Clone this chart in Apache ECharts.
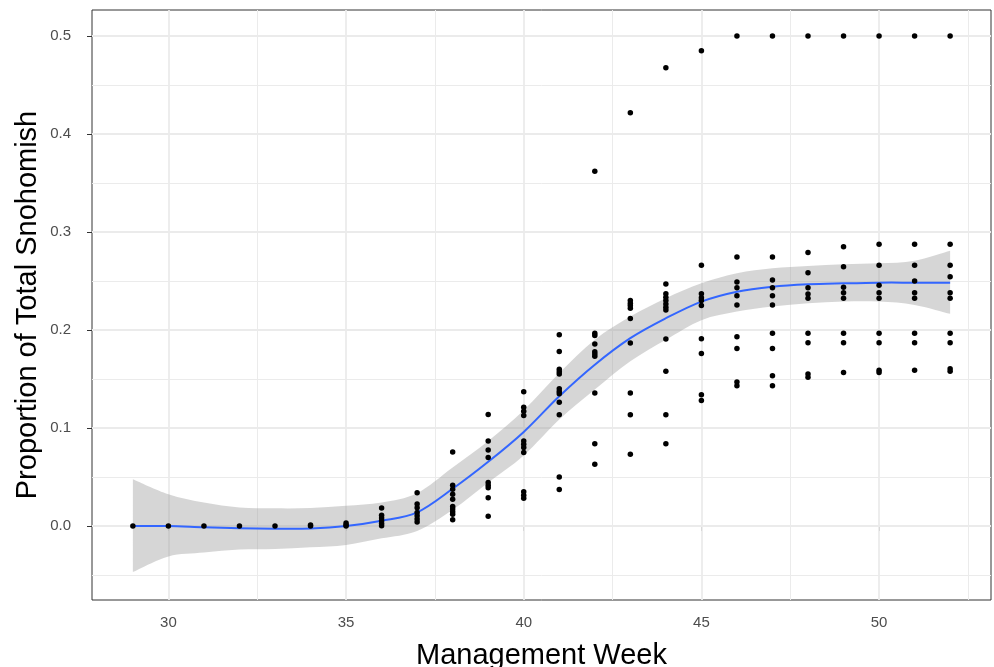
<!DOCTYPE html>
<html>
<head>
<meta charset="utf-8">
<script src="https://cdn.jsdelivr.net/npm/echarts@6/dist/echarts.min.js"></script>
<style>
html,body{margin:0;padding:0;background:#fff;}
#chart{width:994px;height:667px;}
</style>
</head>
<body>
<div id="chart"></div>
<script>
// Observed points: management week and proportions at that week
const weeks = [29,30,31,32,33,34,35,36,37,38,39,40,41,42,43,44,45,46,47,48,49,50,51,52];
const proportions = [
  [0],
  [0],
  [0],
  [0],
  [0],
  [0.001, 0],
  [0.003, 0.001, 0],
  [0.0183, 0.011, 0.0082, 0.0053, 0.0025, 0.0003],
  [0.034, 0.0225, 0.0186, 0.0139, 0.0105, 0.0071, 0.004],
  [0.0755, 0.0417, 0.0376, 0.0325, 0.0274, 0.02, 0.0173, 0.0145, 0.0119, 0.0064],
  [0.1138, 0.0867, 0.0775, 0.0698, 0.0444, 0.0417, 0.039, 0.0288, 0.0099],
  [0.1369, 0.1212, 0.1172, 0.1128, 0.0867, 0.0833, 0.08, 0.0749, 0.0349, 0.0315, 0.0282],
  [0.1951, 0.178, 0.16, 0.1575, 0.155, 0.14, 0.1372, 0.135, 0.1263, 0.1135, 0.0501, 0.0373],
  [0.362, 0.1968, 0.1944, 0.1857, 0.1778, 0.1755, 0.1731, 0.1358, 0.084, 0.063],
  [0.4217, 0.23, 0.2273, 0.2249, 0.2222, 0.2117, 0.1866, 0.1358, 0.1135, 0.0732],
  [0.4675, 0.247, 0.237, 0.2334, 0.23, 0.2266, 0.2233, 0.2205, 0.1907, 0.158, 0.1135, 0.084],
  [0.485, 0.266, 0.237, 0.233, 0.23, 0.225, 0.191, 0.176, 0.134, 0.128],
  [0.5, 0.2745, 0.249, 0.243, 0.235, 0.2255, 0.193, 0.181, 0.147, 0.143],
  [0.5, 0.2745, 0.251, 0.243, 0.235, 0.2255, 0.1966, 0.181, 0.1534, 0.143],
  [0.5, 0.279, 0.2585, 0.243, 0.2367, 0.2323, 0.1966, 0.187, 0.1551, 0.1517],
  [0.5, 0.285, 0.2646, 0.2435, 0.238, 0.2323, 0.1966, 0.187, 0.1565],
  [0.5, 0.2874, 0.266, 0.2456, 0.238, 0.2323, 0.1966, 0.187, 0.159, 0.1565],
  [0.5, 0.2874, 0.266, 0.25, 0.238, 0.2323, 0.1966, 0.187, 0.159],
  [0.5, 0.2874, 0.266, 0.2544, 0.238, 0.2323, 0.1966, 0.187, 0.1604, 0.158]
];

// Smoothed fit (loess) and its confidence band, read at each week
const smoothWeeks = [29,30,31,32,33,34,35,36,37,38,39,40,41,42,43,44,45,46,47,48,49,50,51,52];
const smoothFit   = [0, 0, -0.0013, -0.0023, -0.0027, -0.0025, 0, 0.0054, 0.0139, 0.038, 0.0655, 0.096, 0.1324, 0.1646, 0.1917, 0.212, 0.229, 0.2391, 0.2442, 0.2466, 0.2476, 0.2483, 0.2483, 0.2483];
const smoothLower = [-0.047, -0.031, -0.027, -0.024, -0.0234, -0.0217, -0.0193, -0.0126, -0.005, 0.0165, 0.0444, 0.072, 0.1087, 0.1392, 0.168, 0.19, 0.21, 0.2188, 0.2239, 0.2273, 0.229, 0.229, 0.2256, 0.2165];
const smoothUpper = [0.0478, 0.0325, 0.024, 0.019, 0.018, 0.0183, 0.0206, 0.0240, 0.0335, 0.0596, 0.0867, 0.118, 0.156, 0.19, 0.2137, 0.2324, 0.2476, 0.2578, 0.2629, 0.2652, 0.267, 0.268, 0.2707, 0.2809];

// Axis ticks and gridlines
const xTicks = [30, 35, 40, 45, 50];
const xMinor = [32.5, 37.5, 42.5, 47.5, 52.5];
const yTicks = [0, 0.1, 0.2, 0.3, 0.4, 0.5];
const yMinor = [-0.05, 0.05, 0.15, 0.25, 0.35, 0.45];

const xTitle = 'Management Week';
const yTitle = 'Proportion of Total Snohomish';

const scatterData = [];
weeks.forEach((w, i) => proportions[i].forEach(v => scatterData.push([w, v])));

const bandData = smoothWeeks.map((w, i) => [w, smoothLower[i], smoothUpper[i]]);
const fitData = smoothWeeks.map((w, i) => [w, smoothFit[i]]);

const gridColor = '#EBEBEB';
const gridLines = []
  .concat(xMinor.map(v => ({xAxis: v, lineStyle: {width: 1, color: gridColor, type: 'solid'}})))
  .concat(yMinor.map(v => ({yAxis: v, lineStyle: {width: 1, color: gridColor, type: 'solid'}})))
  .concat(xTicks.map(v => ({xAxis: v, lineStyle: {width: 1.8, color: gridColor, type: 'solid'}})))
  .concat(yTicks.map(v => ({yAxis: v, lineStyle: {width: 1.8, color: gridColor, type: 'solid'}})));

const font = "'Liberation Sans', Arial, sans-serif";

// Catmull-Rom spline through pixel points -> SVG path commands
function splineCmds(pts, moveFirst) {
  let d = (moveFirst ? 'M' : 'L') + pts[0][0] + ',' + pts[0][1];
  for (let i = 0; i < pts.length - 1; i++) {
    const p0 = pts[Math.max(0, i - 1)], p1 = pts[i], p2 = pts[i + 1], p3 = pts[Math.min(pts.length - 1, i + 2)];
    const c1 = [p1[0] + (p2[0] - p0[0]) / 6, p1[1] + (p2[1] - p0[1]) / 6];
    const c2 = [p2[0] - (p3[0] - p1[0]) / 6, p2[1] - (p3[1] - p1[1]) / 6];
    d += 'C' + c1[0] + ',' + c1[1] + ' ' + c2[0] + ',' + c2[1] + ' ' + p2[0] + ',' + p2[1];
  }
  return d;
}

function renderBand(params, api) {
  if (params.dataIndex !== 0) return null;
  const upper = [], lower = [];
  for (let i = 0; i < bandData.length; i++) {
    upper.push(api.coord([bandData[i][0], bandData[i][2]]));
    lower.push(api.coord([bandData[i][0], bandData[i][1]]));
  }
  lower.reverse();
  const d = splineCmds(upper, true) + splineCmds(lower, false) + 'Z';
  return {
    type: 'path',
    shape: {pathData: d},
    style: {fill: 'rgba(153,153,153,0.4)', stroke: null}
  };
}

function renderFit(params, api) {
  if (params.dataIndex !== 0) return null;
  const pts = fitData.map(p => api.coord(p));
  return {
    type: 'path',
    shape: {pathData: splineCmds(pts, true)},
    style: {fill: null, stroke: '#3366FF', lineWidth: 2}
  };
}

const chart = echarts.init(document.getElementById('chart'), null, {renderer: 'canvas'});
chart.setOption({
  animation: false,
  backgroundColor: '#ffffff',
  grid: {
    left: 92, right: 3, top: 10, bottom: 67,
    containLabel: false,
    outerBoundsMode: 'none',
    show: true, borderColor: '#333333', borderWidth: 1, backgroundColor: 'transparent'
  },
  xAxis: {
    type: 'value',
    min: 27.85, max: 53.15,
    name: xTitle,
    nameLocation: 'middle',
    nameGap: 41,
    nameMoveOverlap: false,
    nameTextStyle: {fontFamily: font, fontSize: 29, color: '#000'},
    axisLine: {show: false},
    axisTick: {show: true, length: 5, lineStyle: {color: '#333333', width: 1}, customValues: xTicks},
    axisLabel: {show: true, margin: 15, fontFamily: font, fontSize: 15, color: '#4D4D4D', customValues: xTicks,
      formatter: v => String(v)},
    splitLine: {show: false},
    minorSplitLine: {show: false}
  },
  yAxis: {
    type: 'value',
    min: -0.0755, max: 0.5265,
    name: yTitle,
    nameLocation: 'middle',
    nameGap: 50,
    nameMoveOverlap: false,
    nameTextStyle: {fontFamily: font, fontSize: 29, color: '#000'},
    axisLine: {show: false},
    axisTick: {show: true, length: 5, lineStyle: {color: '#333333', width: 1}, customValues: yTicks},
    axisLabel: {show: true, margin: 21, fontFamily: font, fontSize: 15, color: '#4D4D4D', customValues: yTicks,
      formatter: v => Number(v).toFixed(1)},
    splitLine: {show: false}
  },
  series: [
    {
      type: 'scatter',
      name: 'grid',
      data: [[40, 0.2]],
      symbolSize: 0,
      itemStyle: {opacity: 0},
      silent: true,
      z: 1,
      markLine: {
        silent: true, symbol: 'none', z: 1, animation: false,
        label: {show: false},
        emphasis: {disabled: true},
        data: gridLines
      }
    },
    {
      type: 'custom',
      name: 'band',
      data: bandData,
      renderItem: renderBand,
      encode: {x: 0, y: [1, 2]},
      silent: true,
      clip: true,
      z: 2
    },
    {
      type: 'custom',
      name: 'fit',
      data: fitData,
      renderItem: renderFit,
      encode: {x: 0, y: 1},
      silent: true,
      clip: true,
      z: 3
    },
    {
      type: 'scatter',
      name: 'points',
      data: scatterData,
      symbol: 'circle',
      symbolSize: 5.5,
      itemStyle: {color: '#000000', opacity: 1},
      z: 4
    }
  ]
});
</script>
</body>
</html>
